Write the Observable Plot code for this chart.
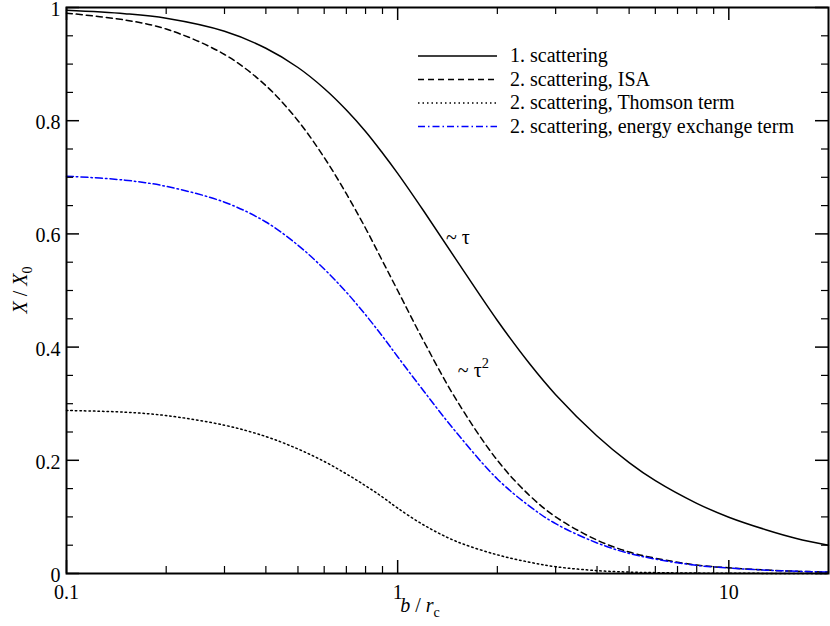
<!DOCTYPE html>
<html><head><meta charset="utf-8">
<script src="https://cdn.jsdelivr.net/npm/d3@7"></script>
<script src="https://cdn.jsdelivr.net/npm/@observablehq/plot@0.6"></script>
<style>
body{margin:0;background:#fff;font-family:"Liberation Serif",serif}
#chart svg{display:block}
</style>
</head><body><div id="chart"></div>
<script>
// ---- data ----
const bOverRc = [0.1, 0.15, 0.2, 0.3, 0.4, 0.5, 0.6, 0.7, 0.8, 0.9, 1, 1.2, 1.5, 2, 2.5, 3, 4, 5, 6, 8, 10, 13, 16, 20];
const firstScattering = [0.995, 0.989, 0.981, 0.958, 0.928, 0.894, 0.857, 0.819, 0.781, 0.743, 0.707, 0.640, 0.555, 0.447, 0.371, 0.316, 0.243, 0.196, 0.164, 0.124, 0.0995, 0.077, 0.062, 0.050];
const secondISA = [0.990, 0.978, 0.962, 0.917, 0.862, 0.800, 0.735, 0.671, 0.610, 0.552, 0.500, 0.410, 0.308, 0.200, 0.138, 0.100, 0.059, 0.038, 0.027, 0.015, 0.010, 0.006, 0.004, 0.0025];
const secondThomson = [0.288, 0.285, 0.279, 0.262, 0.242, 0.220, 0.198, 0.176, 0.155, 0.135, 0.1155, 0.0855, 0.057, 0.033, 0.020, 0.012, 0.005, 0.0025, 0.0015, 0.0007, 0.0004, 0.0002, 0.0001, 0.0];
const secondEnergy = [0.702, 0.695, 0.684, 0.656, 0.621, 0.580, 0.538, 0.497, 0.457, 0.419, 0.383, 0.322, 0.250, 0.167, 0.119, 0.088, 0.054, 0.0355, 0.0255, 0.0143, 0.0096, 0.0058, 0.0039, 0.0025];
const seriesNames = ["1. scattering", "2. scattering, ISA", "2. scattering, Thomson term", "2. scattering, energy exchange term"];
const xMajorTicks = [0.1, 1, 10];
const xMinorTicks = [0.2, 0.3, 0.4, 0.5, 0.6, 0.7, 0.8, 0.9, 2, 3, 4, 5, 6, 7, 8, 9];
const yMajorTicks = [0, 0.2, 0.4, 0.6, 0.8, 1];
const yMinorTicks = [0.05, 0.1, 0.15, 0.25, 0.3, 0.35, 0.45, 0.5, 0.55, 0.65, 0.7, 0.75, 0.85, 0.9, 0.95];
const annotations = [{x: 1.40, y: 0.594, text: "~ τ"}, {x: 1.52, y: 0.359, text: "~ τ"}];

// ---- layout / styles ----
const W = 830, H = 626, mL = 66, mR = 2, mT = 7, mB = 53;
const innerW = W - mL - mR, innerH = H - mT - mB;
const FONT = "'Liberation Serif', 'Times New Roman', Times, serif";
const styles = [
  {stroke: "#000", dash: null},
  {stroke: "#000", dash: "6,4"},
  {stroke: "#000", dash: "1.5,3"},
  {stroke: "#0000ff", dash: "7,3,1.5,3"}
];
const seriesValues = [firstScattering, secondISA, secondThomson, secondEnergy];
const rows = seriesNames.map((name, i) => bOverRc.map((b, j) => ({b, v: seriesValues[i][j], name})));

const FS = 20;
const marks = [];
rows.forEach((data, i) => {
  marks.push(Plot.line(data, {x: "b", y: "v", stroke: styles[i].stroke, strokeWidth: 1.5, strokeDasharray: styles[i].dash, curve: "catmull-rom"}));
});
// inward ticks, all four sides
marks.push(Plot.tickX(xMajorTicks, {x: d => d, insetTop: innerH - 13, strokeWidth: 1.5}));
marks.push(Plot.tickX(xMajorTicks, {x: d => d, insetBottom: innerH - 13, strokeWidth: 1.5}));
marks.push(Plot.tickX(xMinorTicks, {x: d => d, insetTop: innerH - 7, strokeWidth: 1.2}));
marks.push(Plot.tickX(xMinorTicks, {x: d => d, insetBottom: innerH - 7, strokeWidth: 1.2}));
marks.push(Plot.tickY(yMajorTicks, {y: d => d, insetRight: innerW - 13, strokeWidth: 1.5}));
marks.push(Plot.tickY(yMajorTicks, {y: d => d, insetLeft: innerW - 13, strokeWidth: 1.5}));
marks.push(Plot.tickY(yMinorTicks, {y: d => d, insetRight: innerW - 7, strokeWidth: 1.2}));
marks.push(Plot.tickY(yMinorTicks, {y: d => d, insetLeft: innerW - 7, strokeWidth: 1.2}));
marks.push(Plot.axisX(xMajorTicks, {tickSize: 0, tickPadding: 11, tickFormat: d => String(d), fontSize: FS, fill: "#000"}));
marks.push(Plot.axisY(yMajorTicks, {tickSize: 0, tickPadding: 6, dy: 2, tickFormat: d => String(d), fontSize: FS, fill: "#000"}));
marks.push(Plot.text(annotations, {x: "x", y: "y", text: "text", textAnchor: "start", fontSize: FS, fill: "#000"}));
marks.push(Plot.frame({stroke: "#000", strokeWidth: 2}));

const chart = Plot.plot({
  width: W, height: H,
  marginLeft: mL, marginRight: mR, marginTop: mT, marginBottom: mB,
  x: {type: "log", domain: [0.1, 20], label: null, axis: null},
  y: {domain: [0, 1], label: null, axis: null},
  style: {fontSize: FS + "px", color: "#000", background: "#fff"},
  marks
});
document.getElementById("chart").appendChild(chart);

// ---- legend, superscript and axis titles ----
const svg = d3.select(chart).attr("font-family", FONT);
const annTexts = svg.selectAll("g[aria-label='text'] text").nodes();
if (annTexts.length === 2) {
  d3.select(annTexts[1]).append("tspan").attr("dy", -9).attr("font-size", FS * 0.72).text("2");
}
const leg = svg.append("g").attr("font-size", FS).attr("fill", "#000").attr("text-anchor", "start");
seriesNames.forEach((name, i) => {
  const y = 56 + i * 23.5;
  leg.append("line").attr("x1", 418).attr("x2", 497).attr("y1", y).attr("y2", y)
    .attr("stroke", styles[i].stroke).attr("stroke-width", 1.5)
    .attr("stroke-dasharray", styles[i].dash);
  leg.append("text").attr("x", 510).attr("y", y).attr("dy", "0.32em").text(name);
});
const xt = svg.append("text").attr("x", 420).attr("y", 612).attr("text-anchor", "middle").attr("font-size", FS);
xt.append("tspan").attr("font-style", "italic").text("b");
xt.append("tspan").text(" / ");
xt.append("tspan").attr("font-style", "italic").text("r");
xt.append("tspan").attr("font-size", FS * 0.7).attr("dy", 5).text("c");
const yt = svg.append("text").attr("transform", "translate(27,290) rotate(-90)").attr("text-anchor", "middle").attr("font-size", FS);
yt.append("tspan").attr("font-style", "italic").text("X");
yt.append("tspan").text(" / ");
yt.append("tspan").attr("font-style", "italic").text("X");
yt.append("tspan").attr("font-size", FS * 0.7).attr("dy", 5).text("0");
chart.style.setProperty("font-family", FONT, "important");
chart.querySelectorAll("text, tspan, g").forEach(n => n.style.setProperty("font-family", FONT, "important"));
</script>
</body></html>
